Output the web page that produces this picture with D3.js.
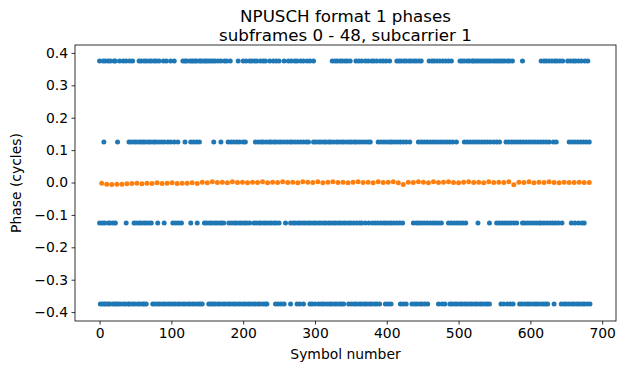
<!DOCTYPE html>
<html><head><meta charset="utf-8">
<script src="https://cdn.jsdelivr.net/npm/d3@7"></script>
<style>body{margin:0;background:#fff}svg{display:block}text{font-family:"DejaVu Sans",sans-serif;fill:#000}</style>
</head><body>
<script>
const titleLines = ["NPUSCH format 1 phases", "subframes 0 - 48, subcarrier 1"];
const xLabel = "Symbol number", yLabel = "Phase (cycles)";
const xTicks = [0,100,200,300,400,500,600,700];
const yTicks = [-0.4,-0.3,-0.2,-0.1,0,0.1,0.2,0.3,0.4];
const symbolCount = 686;
// blue data symbols, by phase level
const levels = [0.375, 0.125, -0.125, -0.375];
const symAt0375 = [0,5,8,12,15,20,22,28,33,37,42,46,55,58,62,65,69,72,76,79,83,89,93,99,104,116,119,121,125,128,130,133,135,139,141,144,147,149,152,155,158,161,165,169,174,177,182,193,200,204,209,212,216,219,224,228,231,237,242,246,250,257,263,267,272,275,280,284,289,293,298,324,328,331,335,338,342,345,349,357,361,365,370,374,379,382,386,391,395,399,404,414,417,420,424,427,431,434,438,441,445,448,459,463,466,470,474,478,482,486,490,502,505,508,512,515,519,521,524,527,530,533,536,539,542,545,549,552,555,558,561,564,568,571,575,589,615,619,622,626,630,634,637,641,645,652,656,660,663,667,671,676,680];
const symAt0125 = [6,25,41,44,48,51,55,58,61,64,68,71,75,78,82,86,90,95,99,104,109,119,127,131,135,139,159,169,179,183,187,191,195,200,203,217,221,225,228,232,236,239,243,246,250,253,257,261,265,268,272,276,280,284,288,291,298,301,305,308,312,315,319,322,326,330,333,337,340,344,348,351,355,358,362,366,370,374,377,388,392,396,400,404,407,411,415,419,423,427,432,444,448,452,456,460,464,468,472,476,480,484,488,492,497,508,512,516,520,524,528,532,536,540,544,549,553,557,566,570,574,578,582,586,590,594,598,602,606,610,614,618,622,626,632,636,654,658,662,666,670,674,678,682];
const symAtM0125 = [0,4,7,12,15,19,22,37,48,51,55,58,62,65,69,72,81,90,102,106,110,114,127,136,146,149,153,156,160,163,167,170,173,180,184,188,191,195,198,202,205,209,215,218,222,225,229,232,236,239,243,246,250,259,266,270,273,277,280,284,287,291,294,298,301,305,308,312,315,319,322,326,329,333,336,340,343,347,350,354,358,362,365,370,375,380,384,388,392,396,399,403,406,410,414,418,422,437,441,444,448,452,456,460,464,468,472,476,486,490,494,498,502,506,510,527,543,553,557,561,565,569,573,577,581,589,592,596,600,604,608,612,615,619,623,627,631,635,639,644,657,662,667,672,675];
const symAtM0375 = [1,4,7,9,12,14,18,21,23,26,29,33,36,40,42,46,49,53,56,60,62,65,74,77,81,84,88,91,95,98,102,105,109,112,116,119,123,126,130,133,137,140,143,152,155,158,161,165,168,172,175,179,182,186,189,193,196,200,203,207,210,214,217,221,224,228,231,233,245,249,253,257,266,275,279,284,293,296,300,305,309,312,316,320,323,327,330,334,337,340,347,351,355,358,362,365,369,372,376,379,383,386,390,398,402,406,419,423,427,435,439,442,446,449,453,457,472,477,481,488,491,495,498,502,505,509,512,516,519,523,526,530,533,537,540,543,559,563,568,572,576,585,588,592,596,599,603,607,610,614,618,621,624,633,643,647,650,654,658,661,665,668,672,675,679,683];
// reference (DMRS) symbols: symbol 3 of every slot
const refSyms = d3.range(3, symbolCount, 7);
const refPhase = [-0.002,-0.005,-0.006,-0.005,-0.005,-0.004,-0.003,-0.002,-0.004,-0.002,-0.003,-0.001,-0.003,-0.002,-0.001,-0.003,-0.002,-0.002,-0.001,-0.003,0.001,-0.001,0.002,0.000,0.001,-0.001,0.002,0.000,0.001,-0.001,0.001,0.000,0.002,-0.001,0.001,0.000,0.002,0.000,0.001,-0.001,0.002,0.001,0.000,0.002,-0.001,0.001,0.002,0.000,0.001,-0.001,0.001,0.002,0.000,0.001,-0.001,0.002,0.000,0.001,0.002,-0.001,-0.006,0.001,0.000,0.002,0.001,-0.001,0.002,0.000,0.001,0.002,0.000,-0.001,0.001,0.002,0.000,0.001,-0.001,0.002,0.000,0.001,0.000,0.002,-0.007,0.001,0.000,0.002,-0.001,0.001,0.000,0.002,0.000,-0.001,0.001,0.000,0.000,0.001,0.000,0.000];

const W = 635, H = 370;
const margin = {left: 75, right: 635-616, top: 45, bottom: 370-321};
const svg = d3.select("body").append("svg").attr("width", W).attr("height", H);
const x = d3.scaleLinear().domain([-34.25, 719.25]).range([margin.left, W - margin.right]);
const y = d3.scaleLinear().domain([-0.4275, 0.4245]).range([H - margin.bottom, margin.top]);

const blue = "#1f77b4", orange = "#ff7f0e";
const blueSets = [symAt0375, symAt0125, symAtM0125, symAtM0375];
const gPts = svg.append("g");
blueSets.forEach((arr, i) => {
  gPts.selectAll(null).data(arr).enter().append("circle")
    .attr("cx", d => x(d)).attr("cy", y(levels[i])).attr("r", 2.5).attr("fill", blue);
});
gPts.selectAll(null).data(refSyms.map((s, i) => [s, refPhase[i] ?? 0])).enter().append("circle")
  .attr("cx", d => x(d[0])).attr("cy", d => y(d[1])).attr("r", 2.5).attr("fill", orange);

const fmt = d => (d < 0 ? "\u2212" : "") + Math.abs(d).toFixed(1);
const xAxis = svg.append("g").attr("transform", `translate(0,${H - margin.bottom})`)
  .call(d3.axisBottom(x).tickValues(xTicks).tickSize(3.5).tickPadding(3.5).tickFormat(d3.format("d")));
const yAxis = svg.append("g").attr("transform", `translate(${margin.left},0)`)
  .call(d3.axisLeft(y).tickValues(yTicks).tickSize(3.5).tickPadding(3.5).tickFormat(fmt));
[xAxis, yAxis].forEach(g => {
  g.select(".domain").remove();
  g.selectAll("line").attr("stroke", "#000").attr("stroke-width", 0.8);
  g.selectAll("text").attr("font-size", 13.9).attr("font-family", "DejaVu Sans");
});
svg.append("rect").attr("x", margin.left).attr("y", margin.top)
  .attr("width", W - margin.left - margin.right).attr("height", H - margin.top - margin.bottom)
  .attr("fill", "none").attr("stroke", "#000").attr("stroke-width", 0.8);

const cx = (margin.left + W - margin.right) / 2;
svg.append("text").attr("x", cx).attr("y", 22).attr("text-anchor", "middle").attr("font-size", 16.7).text(titleLines[0]);
svg.append("text").attr("x", cx).attr("y", 41).attr("text-anchor", "middle").attr("font-size", 16.7).text(titleLines[1]);
svg.append("text").attr("x", cx).attr("y", 359).attr("text-anchor", "middle").attr("font-size", 13.9).text(xLabel);
svg.append("text").attr("transform", `translate(21,${(margin.top + H - margin.bottom) / 2}) rotate(-90)`)
  .attr("text-anchor", "middle").attr("font-size", 13.9).text(yLabel);
</script>
</body></html>
